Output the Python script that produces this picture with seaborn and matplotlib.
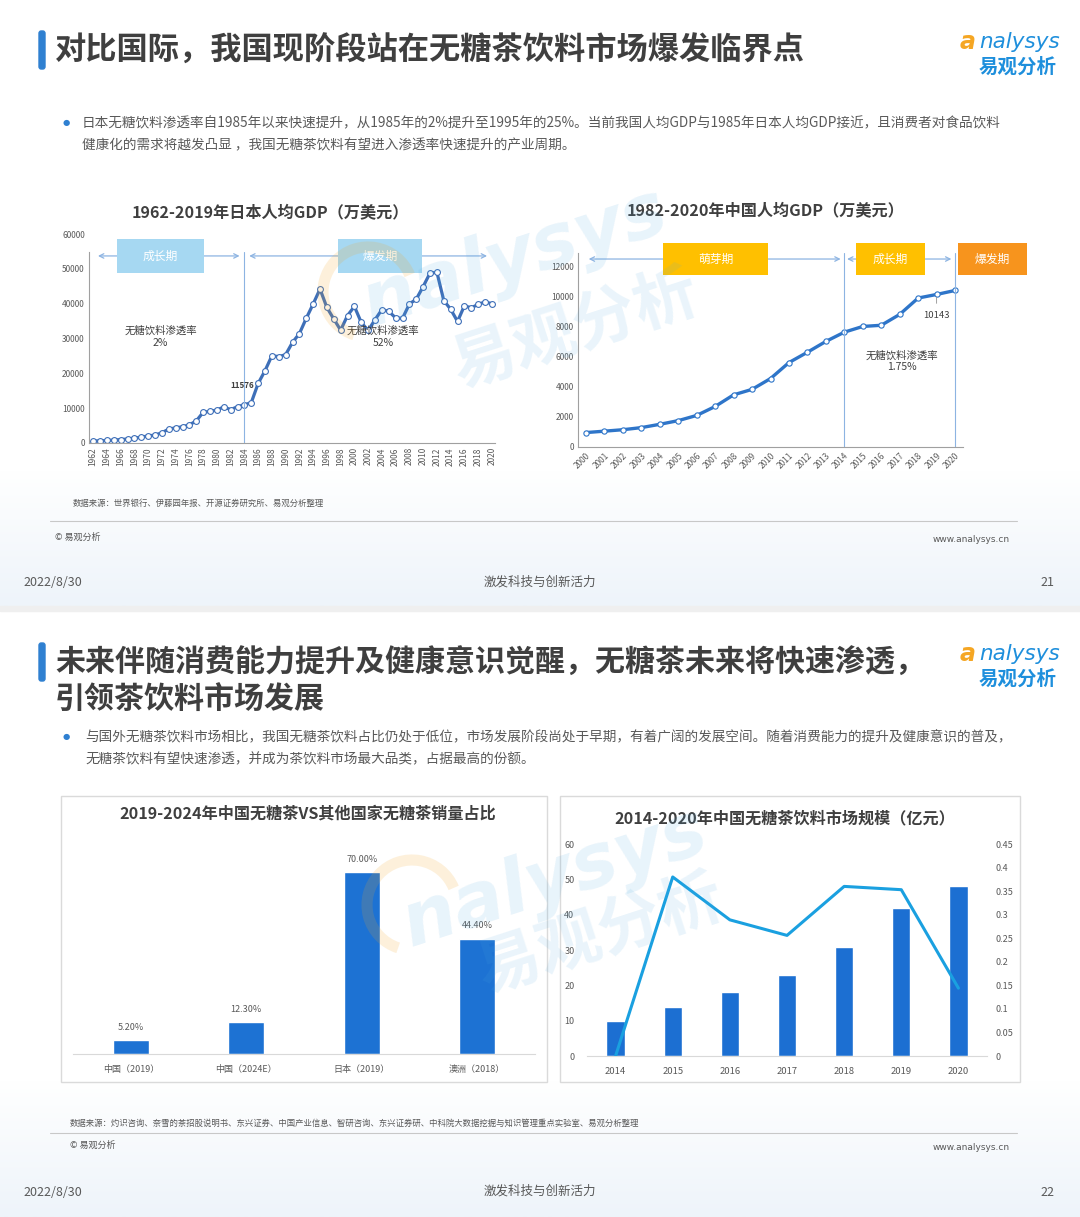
import numpy as np
import pandas as pd
import matplotlib
matplotlib.use("Agg")
import matplotlib.pyplot as plt
import matplotlib.patches as mpatches
from matplotlib.ticker import FuncFormatter
import seaborn as sns

# ---------------- data ----------------
jp_years = list(range(1962, 2021))
jp_gdp = [560, 630, 720, 840, 980, 1150, 1400, 1670, 2040, 2270,
          2950, 3990, 4350, 4660, 5200, 6340, 8800, 9100, 9460, 10360,
          9580, 10420, 10980, 11576, 17100, 20750, 25050, 24800, 25360, 28900,
          31400, 35800, 39900, 44200, 38900, 35600, 32400, 36600, 39200, 34600,
          32300, 35400, 38300, 37800, 35900, 35800, 39900, 41300, 44900, 48800,
          49000, 40900, 38400, 34900, 39400, 38800, 39800, 40500, 40000]
jp_phases = [("成长期", 1962, 1984), ("爆发期", 1984, 2020)]
jp_notes = [("无糖饮料渗透率\n2%", 1971.8), ("无糖饮料渗透率\n52%", 2004.2)]

cn_years = list(range(2000, 2021))
cn_gdp = [959, 1053, 1149, 1289, 1509, 1753, 2099, 2694, 3468, 3832,
          4550, 5614, 6301, 7020, 7636, 8016, 8094, 8817, 9905, 10143, 10409]
cn_phases = [("萌芽期", 2000, 2014), ("成长期", 2014, 2020)]
cn_note = "无糖饮料渗透率\n1.75%"

share_labels = ["中国（2019）", "中国（2024E）", "日本（2019）", "澳洲（2018）"]
share_values = [5.20, 12.30, 70.00, 44.40]

mkt_years = ["2014", "2015", "2016", "2017", "2018", "2019", "2020"]
mkt_size = [10.0, 13.8, 18.0, 22.8, 30.9, 42.0, 48.1]
mkt_growth = [0.0, 0.38, 0.289, 0.256, 0.36, 0.353, 0.144]

# ---------------- style ----------------
sns.set_style("white")
plt.rcParams['font.family'] = ['Noto Sans CJK SC', 'DejaVu Sans']
plt.rcParams['axes.unicode_minus'] = False

W, H = 1080, 1217
fig = plt.figure(figsize=(W / 100, H / 100), dpi=100)
fig.patch.set_facecolor("white")

def fx(px):
    return px / W

def fy(py):
    return 1 - py / H

def add_axes(l, t, r, b):
    return fig.add_axes([fx(l), fy(b), (r - l) / W, (b - t) / H])

DARK = "#3F3F3F"
GREY = "#595959"

# --- faint background (skyline-like gradient at the bottom of each slide)
bg = fig.add_axes([0, 0, 1, 1], zorder=-10)
bg.set_xlim(0, W); bg.set_ylim(H, 0); bg.axis("off")
cmap = matplotlib.colors.LinearSegmentedColormap.from_list("g", ["#FFFFFF", "#EEF4FA"])
for top, bot in [(470, 606), (1080, 1217)]:
    grad = np.linspace(0, 1, 64).reshape(-1, 1)
    bg.imshow(grad, extent=(0, W, bot, top), cmap=cmap, aspect="auto", zorder=-10)
bg.add_patch(mpatches.Rectangle((0, 606), W, 5, color="#EFEFEF", zorder=-9))

# ---------------- slide headers ----------------
def header(title_lines, title_size, y0, bullet_lines, by0, bx, page, fy_src, src, line_y,
           ctext_y, foot_y, src_x, copy_x):
    fig.patches.append(mpatches.FancyBboxPatch((fx(39), fy(y0 + 19)), 6 / W, 38 / H,
                                               boxstyle="round,pad=0,rounding_size=0.002",
                                               transform=fig.transFigure, color="#2F80D1"))
    for i, t in enumerate(title_lines):
        fig.text(fx(55), fy(y0 + 1 + i * 37), t, fontsize=title_size, fontweight="bold",
                 color=DARK, va="center", ha="left")
    # logo
    fig.text(fx(976), fy(y0 - 8), "a", fontsize=17, color="#F5A623", style="italic",
             fontweight="bold", va="center", ha="right", family="DejaVu Sans")
    fig.text(fx(1060), fy(y0 - 8), "nalysys", fontsize=15.5, color="#1E8FDC", style="italic",
             va="center", ha="right", family="DejaVu Sans")
    fig.text(fx(1057), fy(y0 + 17), "易观分析", fontsize=14, color="#1E8FDC", fontweight="bold",
             va="center", ha="right")
    # bullet
    fig.text(fx(66), fy(by0), "●", fontsize=6, color="#2F80D1", va="center", ha="center",
             family="DejaVu Sans")
    for i, t in enumerate(bullet_lines):
        fig.text(fx(bx), fy(by0 + i * 22), t, fontsize=9.8, color=GREY, va="center", ha="left")
    # footer
    fig.text(fx(src_x), fy(fy_src), src, fontsize=6, color=GREY, va="center", ha="left")
    fig.lines.append(plt.Line2D([fx(50), fx(1017)], [fy(line_y), fy(line_y)],
                                transform=fig.transFigure, color="#C8C8C8", lw=0.8))
    fig.text(fx(copy_x), fy(ctext_y), "© 易观分析", fontsize=6.5, color=GREY, va="center", ha="left")
    fig.text(fx(1010), fy(ctext_y + 2), "www.analysys.cn", fontsize=6.5, color=GREY, va="center",
             ha="right", family="DejaVu Sans")
    fig.text(fx(23), fy(foot_y), "2022/8/30", fontsize=9, color=GREY, va="center", ha="left")
    fig.text(fx(540), fy(foot_y - 1), "激发科技与创新活力", fontsize=9, color=GREY, va="center",
             ha="center")
    fig.text(fx(1054), fy(foot_y), page, fontsize=9, color=GREY, va="center", ha="right")

header(["对比国际，我国现阶段站在无糖茶饮料市场爆发临界点"], 22.5, 50,
       ["日本无糖饮料渗透率自1985年以来快速提升，从1985年的2%提升至1995年的25%。当前我国人均GDP与1985年日本人均GDP接近，且消费者对食品饮料",
        "健康化的需求将越发凸显 ，我国无糖茶饮料有望进入渗透率快速提升的产业周期。"], 123, 82,
       "21", 503, "数据来源：世界银行、伊藤园年报、开源证券研究所、易观分析整理", 521, 537, 583, 73, 55)

header(["未来伴随消费能力提升及健康意识觉醒，无糖茶未来将快速渗透，", "引领茶饮料市场发展"], 21.6, 662,
       ["与国外无糖茶饮料市场相比，我国无糖茶饮料占比仍处于低位，市场发展阶段尚处于早期，有着广阔的发展空间。随着消费能力的提升及健康意识的普及，",
        "无糖茶饮料有望快速渗透，并成为茶饮料市场最大品类，占据最高的份额。"], 737, 85,
       "22", 1123,
       "数据来源：灼识咨询、奈雪的茶招股说明书、东兴证券、中国产业信息、智研咨询、东兴证券研、中科院大数据挖掘与知识管理重点实验室、易观分析整理",
       1133, 1145, 1192, 70, 70)

# ---------------- Japan GDP chart ----------------
fig.text(fx(270), fy(212), "1962-2019年日本人均GDP（万美元）", fontsize=11.6, fontweight="bold",
         color=DARK, ha="center", va="center")
ax1 = add_axes(89, 234, 495, 443)
jp_col = "#3E6FB8"
sns.lineplot(x=jp_years, y=jp_gdp, ax=ax1, color=jp_col, lw=2.3, marker="o", markersize=4.2,
             markerfacecolor="white", markeredgecolor=jp_col, markeredgewidth=0.8)
ax1.set_xlim(1961.4, 2020.45)
ax1.set_ylim(0, 60000)
ax1.set_yticks(range(0, 60001, 10000))
ax1.set_xticks(jp_years[::2])
ax1.set_xticklabels([str(y) for y in jp_years[::2]], rotation=90)
ax1.tick_params(axis="both", length=0, labelsize=6, labelcolor=GREY, pad=3)
for s in ["top", "right"]:
    ax1.spines[s].set_visible(False)
ax1.spines["left"].set_color("#A0A0A0"); ax1.spines["left"].set_linewidth(0.8)
ax1.spines["left"].set_bounds(0, 54800)
ax1.spines["bottom"].set_color("#A0A0A0"); ax1.spines["bottom"].set_linewidth(0.8)
ax1.set_xlabel(""); ax1.set_ylabel("")
ax1.axvline(1984, ymin=0, ymax=54800 / 60000, color="#8DB4E2", lw=0.8)
arrow_y = 53700
jp_boxes = {"成长期": (1965.5, 1978.1), "爆发期": (1997.6, 2009.8)}
for name, a, b in jp_phases:
    ax1.annotate("", xy=(b - 0.3, arrow_y), xytext=(a + 0.3, arrow_y),
                 arrowprops=dict(arrowstyle="<->", color="#8DB4E2", lw=0.9,
                                 mutation_scale=8), annotation_clip=False)
    l, r = jp_boxes[name]
    ax1.add_patch(mpatches.Rectangle((l, 48800), r - l, 9760, facecolor="#A6D8F2",
                                     edgecolor="none", clip_on=False, zorder=3))
    ax1.text((l + r) / 2, 53700, name, color="white", fontsize=8.5, ha="center", va="center",
             zorder=4)
for txt, x in jp_notes:
    ax1.text(x, 30500, txt, fontsize=7.5, color="#404040", ha="center", va="center",
             linespacing=1.2)
ax1.annotate(f"{jp_gdp[jp_years.index(1985)]}", xy=(1985, 11576), xytext=(2, 9),
             textcoords="offset points", fontsize=5.8, fontweight="bold", color="#404040",
             ha="right", va="bottom")
ax1.patch.set_alpha(0)

# ---------------- China GDP chart ----------------
fig.text(fx(766), fy(210), "1982-2020年中国人均GDP（万美元）", fontsize=11.6, fontweight="bold",
         color=DARK, ha="center", va="center")
ax2 = add_axes(578, 253, 963, 447)
cn_col = "#2E75C9"
sns.lineplot(x=cn_years, y=cn_gdp, ax=ax2, color=cn_col, lw=2.4, marker="o", markersize=3.8,
             markerfacecolor="white", markeredgecolor=cn_col, markeredgewidth=0.8)
ax2.set_xlim(1999.57, 2020.43)
ax2.set_ylim(0, 12900)
ax2.set_yticks(range(0, 12001, 2000))
ax2.set_xticks(cn_years)
ax2.set_xticklabels([str(y) for y in cn_years], rotation=45, ha="right", rotation_mode="anchor")
ax2.tick_params(axis="both", length=0, labelsize=6, labelcolor=GREY, pad=3)
for s in ["top", "right"]:
    ax2.spines[s].set_visible(False)
ax2.spines["left"].set_color("#A0A0A0"); ax2.spines["left"].set_linewidth(0.8)
ax2.spines["bottom"].set_color("#A0A0A0"); ax2.spines["bottom"].set_linewidth(0.8)
ax2.set_xlabel(""); ax2.set_ylabel("")
for xv in (2014, 2020):
    ax2.axvline(xv, color="#8DB4E2", lw=0.8)
cn_arrow_y = 12500
box_spans = {"萌芽期": (2004.17, 2009.86), "成长期": (2014.63, 2018.37)}
for name, a, b in cn_phases:
    ax2.annotate("", xy=(b - 0.05, cn_arrow_y), xytext=(a, cn_arrow_y),
                 arrowprops=dict(arrowstyle="<->", color="#8DB4E2", lw=0.9, mutation_scale=8),
                 annotation_clip=False)
    l, r = box_spans[name]
    ax2.add_patch(mpatches.Rectangle((l, 11437), r - l, 2128, facecolor="#FFC000",
                                     edgecolor="none", clip_on=False, zorder=3))
    ax2.text((l + r) / 2, 12500, name, color="white", fontsize=8.5, ha="center", va="center",
             zorder=4)
ax2.add_patch(mpatches.Rectangle((2020.15, 11437), 3.74, 2128, facecolor="#F7941D",
                                 edgecolor="none", clip_on=False, zorder=3))
ax2.text(2022.02, 12500, "爆发期", color="white", fontsize=8.5, ha="center", va="center", zorder=4)
ax2.text(2017.1, 5700, cn_note, fontsize=7.5, color="#404040", ha="center", va="center",
         linespacing=1.2)
ax2.annotate(f"{cn_gdp[cn_years.index(2019)]}", xy=(2019, 10143), xytext=(0, -15),
             textcoords="offset points", fontsize=6.8, color="#404040", ha="center", va="center",
             arrowprops=dict(arrowstyle="-", color="#909090", lw=0.6, shrinkA=3, shrinkB=2))
ax2.patch.set_alpha(0)

# ---------------- panel boxes bottom ----------------
for l, t, r, b in [(61, 796, 547, 1082), (560, 796, 1020, 1082)]:
    fig.patches.append(mpatches.Rectangle((fx(l), fy(b)), (r - l) / W, (b - t) / H,
                                          transform=fig.transFigure, facecolor="white",
                                          edgecolor="#DADADA", lw=1, zorder=-5))

# ---------------- share bar chart ----------------
fig.text(fx(308), fy(814), "2019-2024年中国无糖茶VS其他国家无糖茶销量占比", fontsize=11.6,
         fontweight="bold", color=DARK, ha="center", va="center")
ax3 = add_axes(73, 840, 535, 1054)
share_df = pd.DataFrame({"region": share_labels, "share": share_values})
sns.barplot(data=share_df, x="region", y="share", ax=ax3, color="#1D72D3", saturation=1,
            width=0.31)
ax3.set_xlim(-0.5, len(share_labels) - 0.5)
ax3.set_ylim(0, 82.3)
ax3.bar_label(ax3.containers[0], labels=[f"{v:.2f}%" for v in share_values], padding=6,
              fontsize=6.5, color=GREY)
ax3.set_yticks([])
for s in ["top", "right", "left"]:
    ax3.spines[s].set_visible(False)
ax3.spines["bottom"].set_color("#D9D9D9")
ax3.tick_params(axis="x", length=0, labelsize=6.5, labelcolor=GREY, pad=8)
ax3.set_xlabel(""); ax3.set_ylabel("")
ax3.patch.set_alpha(0)

# ---------------- market size chart ----------------
fig.text(fx(785), fy(818), "2014-2020年中国无糖茶饮料市场规模（亿元）", fontsize=11.6,
         fontweight="bold", color=DARK, ha="center", va="center")
ax4 = add_axes(587, 844, 987, 1056)
mkt_df = pd.DataFrame({"year": mkt_years, "size": mkt_size, "growth": mkt_growth})
sns.barplot(data=mkt_df, x="year", y="size", ax=ax4, color="#1C6FD2", saturation=1, width=0.32)
ax4.set_xlim(-0.5, len(mkt_years) - 0.5)
ax4.set_ylim(0, 60)
ax4.set_yticks(range(0, 61, 10))
ax4.tick_params(axis="y", length=0, labelsize=6.5, labelcolor=GREY, pad=9)
ax4.tick_params(axis="x", length=0, labelsize=6.8, labelcolor=GREY, pad=8)
for s in ["top", "right", "left"]:
    ax4.spines[s].set_visible(False)
ax4.spines["bottom"].set_color("#D9D9D9")
ax4.set_xlabel(""); ax4.set_ylabel("")
ax4.patch.set_alpha(0)
ax5 = ax4.twinx()
sns.lineplot(x=np.arange(len(mkt_years)), y=mkt_df["growth"], ax=ax5, color="#1AA0E0", lw=2.2)
ax5.set_ylim(0, 0.45)
ax5.set_yticks(np.arange(0, 0.451, 0.05))
ax5.yaxis.set_major_formatter(FuncFormatter(lambda v, p: f"{v:g}" if v > 1e-9 else "0"))
ax5.tick_params(axis="y", length=0, labelsize=6.5, labelcolor=GREY, pad=6)
for s in ["top", "right", "left", "bottom"]:
    ax5.spines[s].set_visible(False)
ax5.set_ylabel(""); ax5.set_xlabel("")
ax5.set_xlim(-0.5, len(mkt_years) - 0.5)

# ---------------- watermarks ----------------
wm = "#4FA9E0"
for (x1, y1, x2, y2, ax_c) in [(515, 258, 575, 330, (368, 292)), (555, 878, 600, 935, (412, 905))]:
    fig.text(fx(x1), fy(y1), "nalysys", fontsize=54, color=wm, alpha=0.13, rotation=18,
             ha="center", va="center", fontweight="bold", style="italic", family="DejaVu Sans",
             zorder=20)
    fig.text(fx(x2), fy(y2), "易观分析", fontsize=46, color=wm, alpha=0.12, rotation=18,
             ha="center", va="center", fontweight="bold", zorder=20)
    fig.patches.append(mpatches.Arc((fx(ax_c[0]), fy(ax_c[1])), 90 / W, 90 / H, theta1=20,
                                    theta2=250, transform=fig.transFigure, color="#F5A623",
                                    alpha=0.16, lw=8, zorder=20))

fig.savefig("out.png", dpi=100, facecolor="white")
